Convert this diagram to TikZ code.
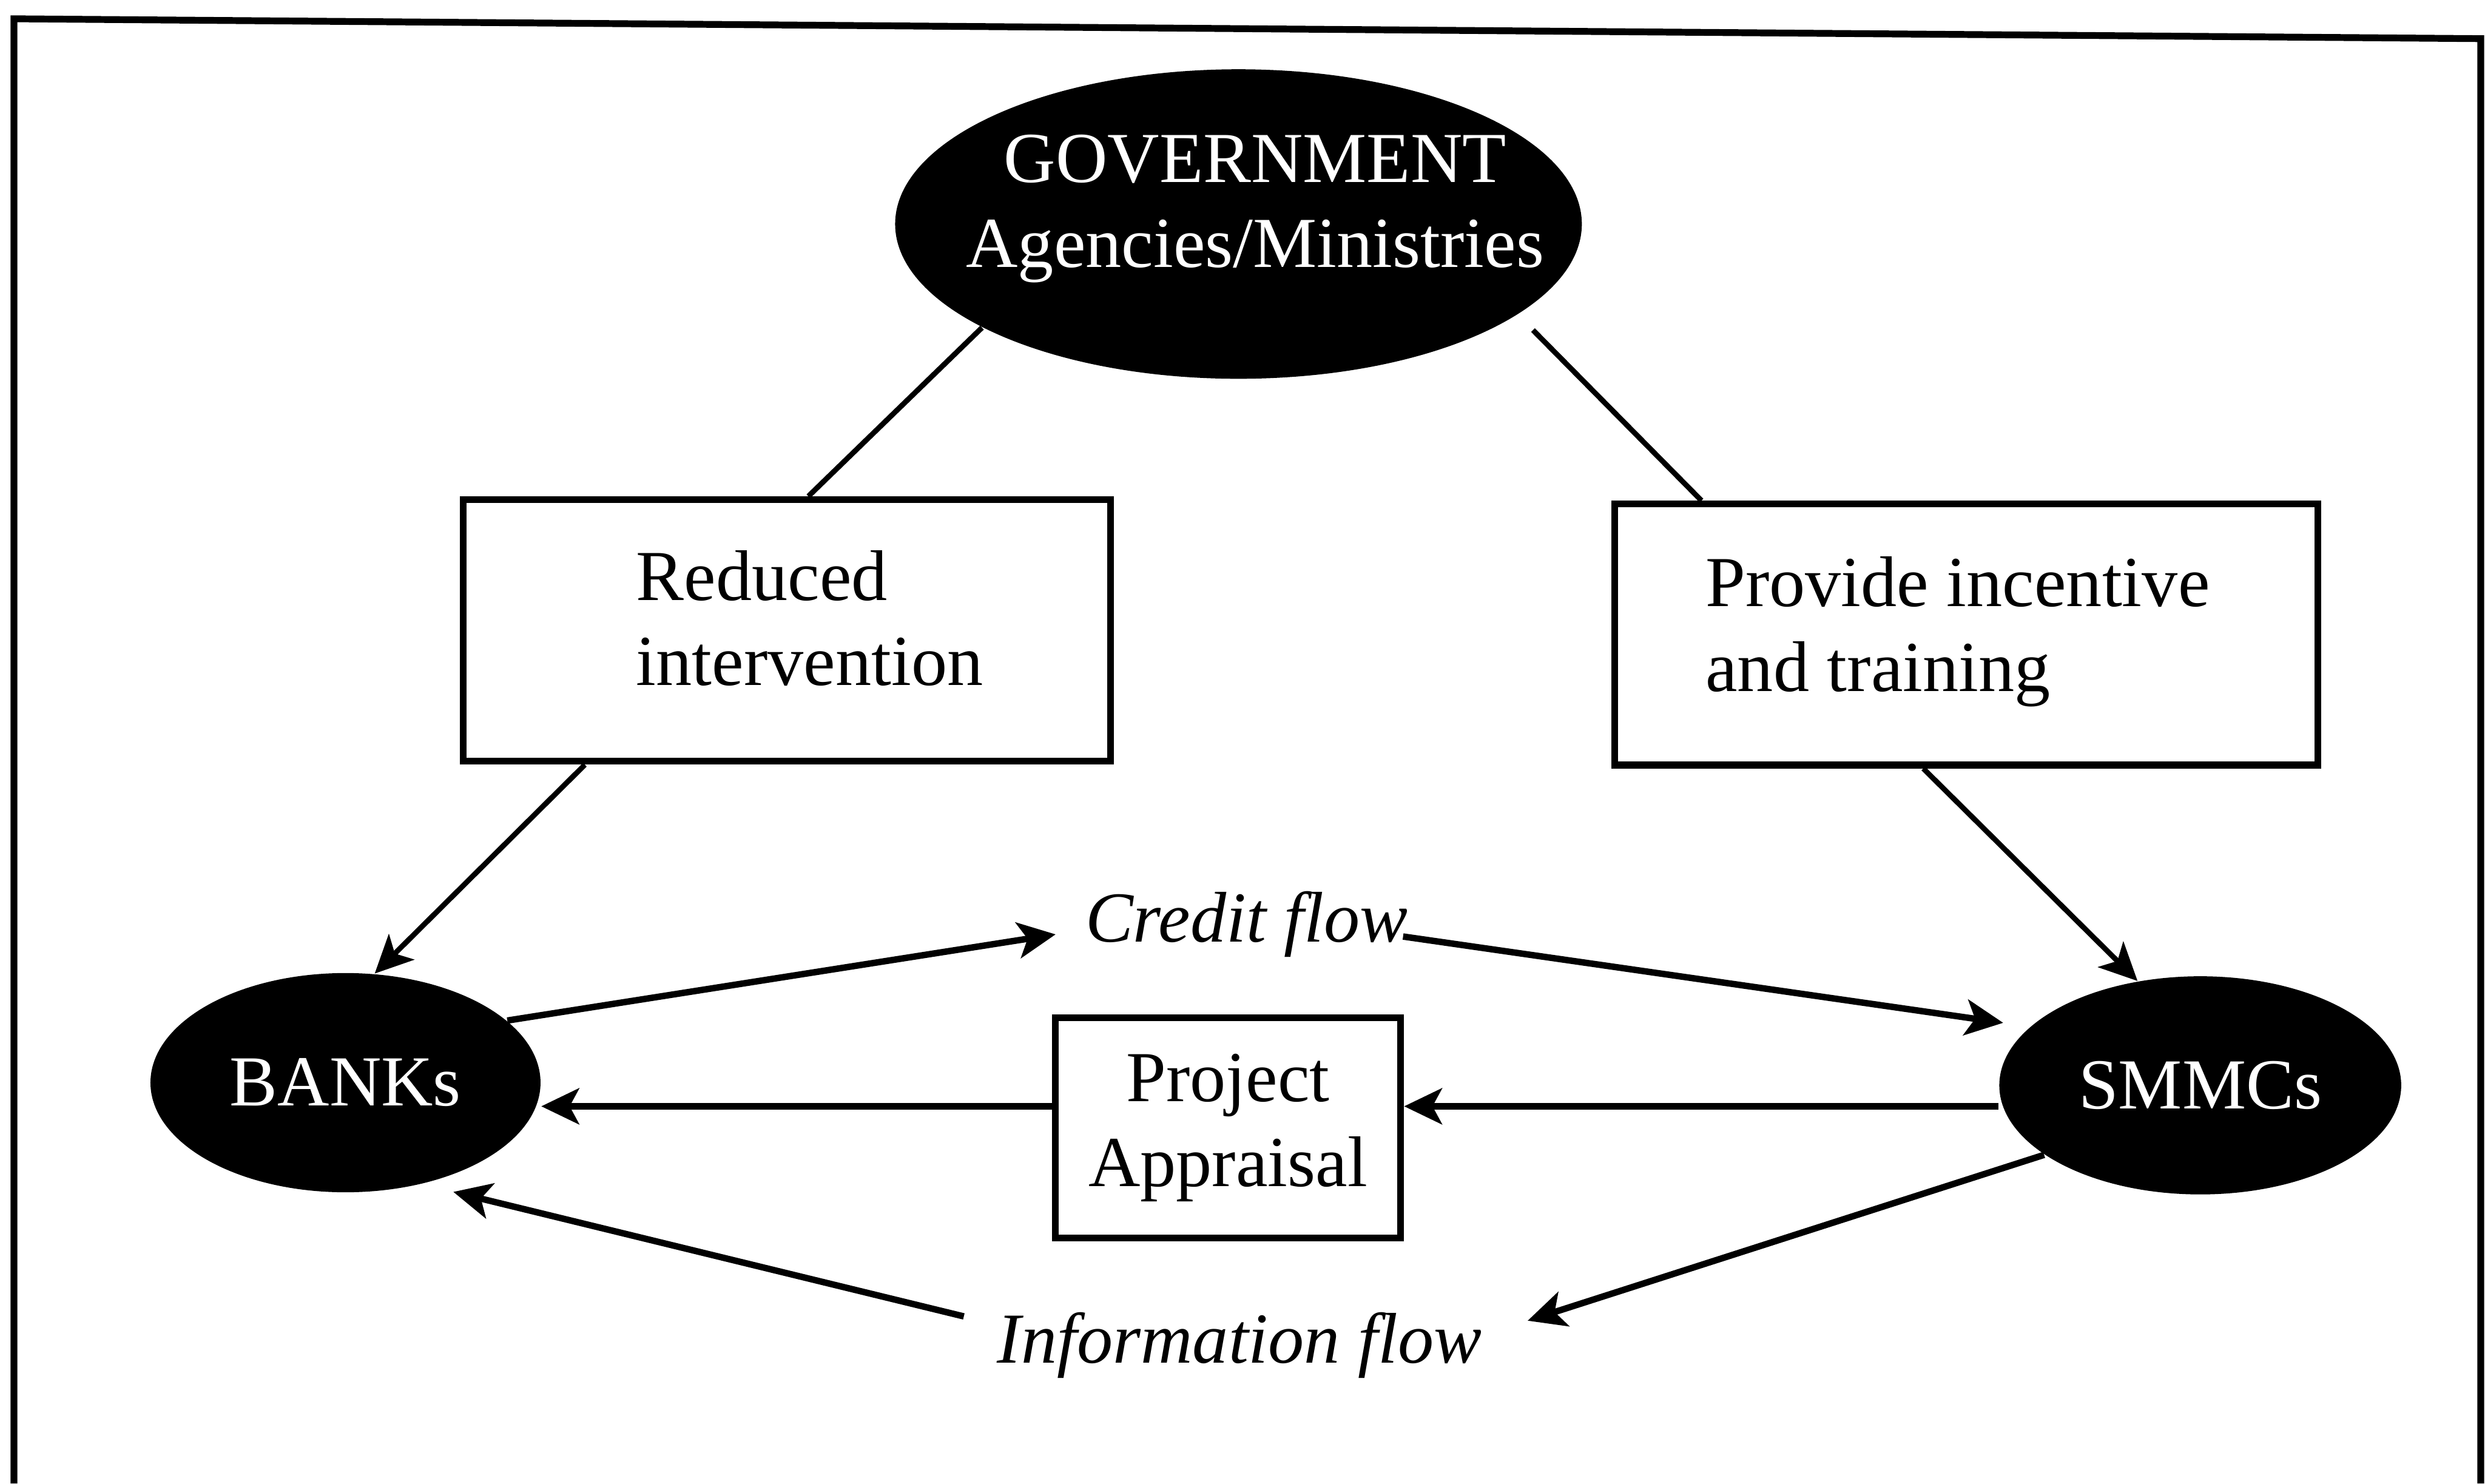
\documentclass[tikz,border=0pt]{standalone}
\usepackage{fontspec}
\setmainfont{Liberation Serif}
\usetikzlibrary{arrows.meta,shapes.geometric}
\newcommand{\diagfont}{\fontsize{19}{22.5}\selectfont}

\begin{document}
\begin{tikzpicture}[
  >={Stealth[length=10pt,width=9.5pt,inset=2.5pt]},
  font=\diagfont,
  blob/.style={ellipse,fill=black,text=white,inner sep=0pt},
  box/.style={draw,line width=1.8pt,inner sep=0pt},
  boxtext/.style={align=left,inner sep=0pt,anchor=west},
  link/.style={line width=1.4pt},
  flow/.style={line width=1.7pt,->},
  flowlabel/.style={anchor=base,inner sep=0pt,font=\diagfont\itshape}
]
  \useasboundingbox (0,0) rectangle (23.125,13.805);

  % Outer frame (bottom edge is cut off)
  \draw[line width=1.8pt] (0.13,0) -- (0.13,13.63) -- (23.085,13.445) -- (23.085,0);

  % Government on top
  \node[blob,minimum width=6.39cm,minimum height=2.88cm] (gov) at (11.525,11.72) {};
  \node[text=white,align=center,inner sep=0pt] (govtxt) at (11.68,11.86) {GOVERNMENT\\Agencies/Ministries};

  % Policy boxes
  \node[box,minimum width=6.025cm,minimum height=2.435cm] (red) at (7.3225,7.9375) {};
  \node[boxtext] (redtxt) at (5.915,8.05) {Reduced\\intervention};
  \node[box,minimum width=6.545cm,minimum height=2.43cm] (prov) at (18.2975,7.9) {};
  \node[boxtext] (provtxt) at (15.865,7.925) {Provide incentive\\and training};

  % Banks and firms
  \node[blob,minimum width=3.63cm,minimum height=2.04cm] (banks) at (3.215,3.73) {BANKs};
  \node[blob,minimum width=3.74cm,minimum height=2.03cm] (smmc) at (20.475,3.705) {SMMCs};
  \node[box,minimum width=3.215cm,minimum height=2.05cm,align=center] (proj) at (11.4275,3.31) {Project\\Appraisal};

  % Flow labels
  \node[flowlabel] (credit) at (11.6,5.04) {Credit flow};
  \node[flowlabel] (info) at (11.535,1.12) {Information flow};

  % Government links
  \draw[link] (gov.202) -- ([xshift=2mm]red.north);
  \draw[link,shorten <=2mm] (gov.-18) -- ([xshift=8.4mm]prov.north west);
  \draw[link,->] ([xshift=-1.88cm]red.south) -- (banks.75);
  \draw[link,->] ([xshift=-4mm]prov.south) -- (smmc.121);

  % Credit flow
  \draw[flow] (banks.21) -- ([shift={(-0.27,0.07)}]credit.base west);
  \draw[flow,shorten >=2.5mm] ([shift={(-0.05,0.05)}]credit.base east) -- (smmc.161);

  % Appraisal
  \coordinate (pe) at ([yshift=2mm]proj.east);
  \coordinate (pw) at ([yshift=2mm]proj.west);
  \draw[flow] (pe -| smmc.west) -- (pe);
  \draw[flow] (pw) -- (pw -| banks.east);

  % Information flow
  \draw[flow] (smmc.204) -- ([shift={(0.42,0.395)}]info.base east);
  \draw[flow,shorten >=3mm] ([shift={(-0.305,0.435)}]info.base west) -- (banks.-53);
\end{tikzpicture}
\end{document}
